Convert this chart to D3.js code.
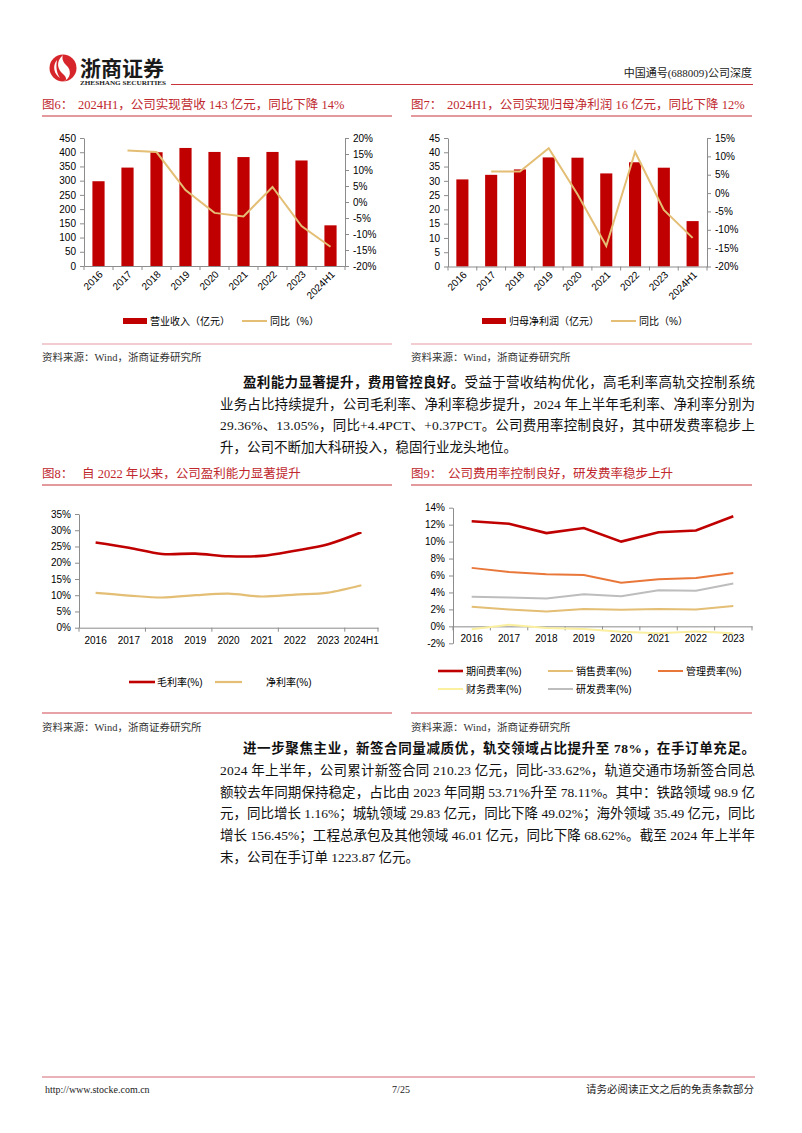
<!DOCTYPE html>
<html><head><meta charset="utf-8">
<script src="https://cdn.jsdelivr.net/npm/d3@7"></script>
<style>body{margin:0;background:#fff}svg{display:block}</style>
</head><body><svg id="page" width="802" height="1133"></svg>
<script>
// ---------- data ----------
const years9 = ["2016","2017","2018","2019","2020","2021","2022","2023","2024H1"];
const years8 = ["2016","2017","2018","2019","2020","2021","2022","2023"];
const revenue = [298, 346, 400, 415, 401, 383, 401, 371, 143];
const revenueYoY = [null, 16.1, 15.6, 3.7, -3.4, -4.5, 4.7, -7.5, -14.0];
const netProfit = [30.5, 32.1, 34.0, 38.2, 38.1, 32.6, 36.5, 34.6, 15.9];
const netProfitYoY = [null, 5.9, 5.9, 12.2, -0.3, -14.4, 11.2, -4.6, -12.2];
const grossMargin = [26.2, 24.6, 22.7, 22.8, 22.0, 22.1, 23.7, 25.7, 29.36];
const netMargin = [10.7, 9.9, 9.3, 10.0, 10.5, 9.6, 10.2, 10.8, 13.05];
const periodExp = [12.4, 12.1, 11.0, 11.6, 10.0, 11.1, 11.3, 13.0];
const salesExp = [2.3, 2.0, 1.75, 2.05, 1.95, 2.05, 2.0, 2.4];
const adminExp = [6.9, 6.4, 6.15, 6.05, 5.15, 5.55, 5.7, 6.3];
const finExp = [-0.35, 0.2, -0.2, -0.3, -0.65, -0.8, -0.6, -0.8];
const rdExp = [3.5, 3.4, 3.3, 3.8, 3.55, 4.25, 4.2, 5.05];
const revTicksL = [0,50,100,150,200,250,300,350,400,450];
const revTicksR = [-20,-15,-10,-5,0,5,10,15,20];
const npTicksL = [0,5,10,15,20,25,30,35,40,45];
const npTicksR = [-20,-15,-10,-5,0,5,10,15];
const marginTicks = [0,5,10,15,20,25,30,35];
const expTicks = [-2,0,2,4,6,8,10,12,14];

// ---------- setup ----------
const svg = d3.select("#page");
svg.append("rect").attr("width",802).attr("height",1133).attr("fill","#fff");
const SERIF = "'Liberation Serif','Noto Sans CJK SC',serif";
const SANS = "'Liberation Sans','Noto Sans CJK SC',sans-serif";
const RED = "#C00000";
const TRED = "#C0282E";
const GOLD = "#E3BE74";
const AX = "#8C8C8C";

// ---------- header ----------
const hd = svg.append("g");
hd.append("circle").attr("cx",63).attr("cy",68).attr("r",13.5).attr("fill","#D7262B");
hd.append("path").attr("d","M63,55 C55,62 58,70 63,74 C68,78 66,82 63,81.5 C71,79 72,70 66,65 C62,61 62,57 63,55Z").attr("fill","#fff");
hd.append("path").attr("d","M57,60 C52,66 54,74 60,78 C56,72 56,66 57,60Z").attr("fill","#fff");
hd.append("text").attr("x",80).attr("y",76).attr("font-family","'Noto Sans CJK SC',sans-serif").attr("font-weight","bold").attr("font-size",21).attr("fill","#1a1a1a").text("浙商证券");
hd.append("text").attr("x",80).attr("y",85).attr("font-family",SERIF).attr("font-weight","bold").attr("font-size",6).attr("fill","#1a1a1a").attr("textLength",86).attr("lengthAdjust","spacingAndGlyphs").text("ZHESHANG SECURITIES");
hd.append("line").attr("x1",171).attr("x2",753).attr("y1",84.5).attr("y2",84.5).attr("stroke","#C8323A").attr("stroke-width",1.2);
hd.append("text").attr("x",752).attr("y",77).attr("text-anchor","end").attr("font-family",SERIF).attr("font-size",11).attr("fill","#222").text("中国通号(688009)公司深度");

// ---------- figure frames ----------
function frame(x0,x1,ty,label,title,tx,uy,sly,sy,slColor){
  const g = svg.append("g");
  g.append("text").attr("x",x0).attr("y",ty).attr("font-family",SERIF).attr("font-size",12.5).attr("fill",TRED).text(label);
  g.append("text").attr("x",tx).attr("y",ty).attr("font-family",SERIF).attr("font-size",12.5).attr("fill",TRED).text(title);
  g.append("line").attr("x1",x0).attr("x2",x1).attr("y1",uy).attr("y2",uy).attr("stroke","#C8323A").attr("stroke-width",1);
  g.append("line").attr("x1",x0).attr("x2",x1).attr("y1",sly).attr("y2",sly).attr("stroke",slColor).attr("stroke-width",1.2);
  g.append("text").attr("x",x0).attr("y",sy).attr("font-family",SERIF).attr("font-size",10.5).attr("fill","#333").text("资料来源：Wind，浙商证券研究所");
}
frame(42,392,109,"图6：","2024H1，公司实现营收 143 亿元，同比下降 14%",78,116,344,361,"#E39AA2");
frame(411,752,109,"图7：","2024H1，公司实现归母净利润 16 亿元，同比下降 12%",447,116,344,361,"#E39AA2");
frame(42,392,478,"图8：","自 2022 年以来，公司盈利能力显著提升",82,485,713,731,"#D04650");
frame(411,752,478,"图9：","公司费用率控制良好，研发费率稳步上升",448,485,713,731,"#D04650");

function styleAxis(sel){
  sel.selectAll(".domain").attr("stroke",AX);
  sel.selectAll(".tick line").attr("stroke",AX);
  sel.selectAll(".tick text").attr("font-family",SANS).attr("font-size",10).attr("fill","#000");
}
const pct = d=>d+"%";

// ---------- combo chart (bars + yoy line) ----------
function combo(o){
  const g = svg.append("g");
  const x = d3.scaleBand().domain(o.cats).range([o.left,o.right]);
  const yL = d3.scaleLinear().domain([0,d3.max(o.lt)]).range([o.bottom,o.top]);
  const yR = d3.scaleLinear().domain(d3.extent(o.rt)).range([o.bottom,o.top]);
  const bw = x.bandwidth()*0.42;
  g.selectAll("rect.bar").data(o.bars).join("rect").attr("class","bar")
    .attr("x",(d,i)=>x(o.cats[i])+(x.bandwidth()-bw)/2).attr("y",d=>yL(d))
    .attr("width",bw).attr("height",d=>yL(0)-yL(d)).attr("fill",RED);
  const aL = g.append("g").attr("transform",`translate(${o.left},0)`)
    .call(d3.axisLeft(yL).tickValues(o.lt).tickSize(4).tickPadding(4).tickSizeOuter(0));
  styleAxis(aL);
  const aR = g.append("g").attr("transform",`translate(${o.right},0)`)
    .call(d3.axisRight(yR).tickValues(o.rt).tickFormat(pct).tickSize(4).tickPadding(4).tickSizeOuter(0));
  styleAxis(aR);
  const aX = g.append("g").attr("transform",`translate(0,${o.bottom})`)
    .call(d3.axisBottom(x).tickSize(0).tickFormat(""));
  styleAxis(aX);
  g.selectAll("line.xt").data(d3.range(o.cats.length+1)).join("line").attr("class","xt")
    .attr("x1",i=>o.left+i*x.step()).attr("x2",i=>o.left+i*x.step())
    .attr("y1",o.bottom).attr("y2",o.bottom+4).attr("stroke",AX);
  g.selectAll("text.xl").data(o.cats).join("text").attr("class","xl")
    .attr("transform",d=>`translate(${x(d)+x.bandwidth()/2+5},${o.bottom+9}) rotate(-45)`)
    .attr("text-anchor","end").attr("font-family",SANS).attr("font-size",10).text(d=>d);
  const ln = d3.line().defined(d=>d!=null).x((d,i)=>x(o.cats[i])+x.bandwidth()/2).y(d=>yR(d));
  g.append("path").attr("d",ln(o.line)).attr("fill","none").attr("stroke",GOLD).attr("stroke-width",2);
  // legend
  const ly = o.legendY;
  g.append("rect").attr("x",o.lg[0]).attr("y",ly-3).attr("width",24).attr("height",6).attr("fill",RED);
  g.append("text").attr("x",o.lg[0]+27).attr("y",ly+3.5).attr("font-family",SANS).attr("font-size",10).text(o.lgText[0]);
  g.append("line").attr("x1",o.lg[1]).attr("x2",o.lg[1]+25).attr("y1",ly).attr("y2",ly).attr("stroke",GOLD).attr("stroke-width",2);
  g.append("text").attr("x",o.lg[1]+28).attr("y",ly+3.5).attr("font-family",SANS).attr("font-size",10).text(o.lgText[1]);
}
combo({cats:years9,left:84,right:345,top:138,bottom:266,lt:revTicksL,rt:revTicksR,bars:revenue,line:revenueYoY,
  legendY:321,lg:[123,242],lgText:["营业收入（亿元）","同比（%）"]});
combo({cats:years9,left:448,right:707,top:138,bottom:266.5,lt:npTicksL,rt:npTicksR,bars:netProfit,line:netProfitYoY,
  legendY:321,lg:[482,611],lgText:["归母净利润（亿元）","同比（%）"]});

// ---------- Fig 8 ----------
(function(){
  const g = svg.append("g");
  const left=79,right=378,top=514,bottom=627.7;
  const x = d3.scaleBand().domain(years9).range([left,right]);
  const y = d3.scaleLinear().domain([0,35]).range([bottom,top]);
  const aL = g.append("g").attr("transform",`translate(${left},0)`)
    .call(d3.axisLeft(y).tickValues(marginTicks).tickFormat(pct).tickSize(4).tickPadding(4).tickSizeOuter(0));
  styleAxis(aL);
  const aX = g.append("g").attr("transform",`translate(0,${bottom})`).call(d3.axisBottom(x).tickSize(0).tickFormat(""));
  styleAxis(aX);
  g.selectAll("line.xt").data([0,2,4,6,8,9]).join("line").attr("class","xt")
    .attr("x1",i=>left+i*x.step()).attr("x2",i=>left+i*x.step()).attr("y1",bottom).attr("y2",bottom+4).attr("stroke",AX);
  g.selectAll("text.xl").data(years9).join("text").attr("class","xl")
    .attr("x",d=>x(d)+x.bandwidth()/2).attr("y",bottom+16.5).attr("text-anchor","middle")
    .attr("font-family",SANS).attr("font-size",10).text(d=>d);
  const ln = d3.line().x((d,i)=>x(years9[i])+x.bandwidth()/2).y(d=>y(d)).curve(d3.curveCatmullRom.alpha(0.5));
  g.append("path").attr("d",ln(netMargin)).attr("fill","none").attr("stroke",GOLD).attr("stroke-width",2.2);
  g.append("path").attr("d",ln(grossMargin)).attr("fill","none").attr("stroke",RED).attr("stroke-width",2.6);
  const ly=682;
  g.append("line").attr("x1",129).attr("x2",155).attr("y1",ly).attr("y2",ly).attr("stroke",RED).attr("stroke-width",2.6);
  g.append("text").attr("x",157).attr("y",ly+3.5).attr("font-family",SANS).attr("font-size",10).text("毛利率(%)");
  g.append("line").attr("x1",215).attr("x2",242).attr("y1",ly).attr("y2",ly).attr("stroke",GOLD).attr("stroke-width",2.2);
  g.append("text").attr("x",266).attr("y",ly+3.5).attr("font-family",SANS).attr("font-size",10).text("净利率(%)");
})();

// ---------- Fig 9 ----------
(function(){
  const g = svg.append("g");
  const left=453,right=752,top=507.7,bottom=643.3;
  const x = d3.scaleBand().domain(years8).range([left,right]);
  const y = d3.scaleLinear().domain([-2,14]).range([bottom,top]);
  const aL = g.append("g").attr("transform",`translate(${left},0)`)
    .call(d3.axisLeft(y).tickValues(expTicks).tickFormat(pct).tickSize(4).tickPadding(4).tickSizeOuter(0));
  styleAxis(aL);
  const y0 = y(0);
  const aX = g.append("g").attr("transform",`translate(0,${y0})`).call(d3.axisBottom(x).tickSize(0).tickFormat(""));
  styleAxis(aX);
  g.selectAll("line.xt").data(d3.range(9)).join("line").attr("class","xt")
    .attr("x1",i=>left+i*x.step()).attr("x2",i=>left+i*x.step()).attr("y1",y0).attr("y2",y0+4).attr("stroke",AX);
  g.selectAll("text.xl").data(years8).join("text").attr("class","xl")
    .attr("x",d=>x(d)+x.bandwidth()/2).attr("y",y0+15.5).attr("text-anchor","middle")
    .attr("font-family",SANS).attr("font-size",10).text(d=>d);
  const ln = d3.line().x((d,i)=>x(years8[i])+x.bandwidth()/2).y(d=>y(d));
  const series = [
    {name:"期间费率(%)",v:periodExp,c:RED,w:2.6},
    {name:"销售费率(%)",v:salesExp,c:GOLD,w:2},
    {name:"管理费率(%)",v:adminExp,c:"#E9773A",w:2},
    {name:"财务费率(%)",v:finExp,c:"#FBEFA0",w:2},
    {name:"研发费率(%)",v:rdExp,c:"#BDBDBD",w:2}
  ];
  series.forEach(s=>g.append("path").attr("d",ln(s.v)).attr("fill","none").attr("stroke",s.c).attr("stroke-width",s.w));
  const pos = [[438,671],[548,671],[658,671],[438,689],[548,689]];
  series.forEach((s,i)=>{
    const [lx,ly]=pos[i];
    g.append("line").attr("x1",lx).attr("x2",lx+25).attr("y1",ly).attr("y2",ly).attr("stroke",s.c).attr("stroke-width",s.w);
    g.append("text").attr("x",lx+28).attr("y",ly+3.5).attr("font-family",SANS).attr("font-size",10).text(s.name);
  });
})();

// ---------- body text ----------
const para1 = [
  {x:243,y:387,j:755,s:[["盈利能力显著提升，费用管控良好。",1],["受益于营收结构优化，高毛利率高轨交控制系统",0]]},
  {x:220,y:409,j:755,s:[["业务占比持续提升，公司毛利率、净利率稳步提升，2024 年上半年毛利率、净利率分别为",0]]},
  {x:220,y:430,j:755,s:[["29.36%、13.05%，同比+4.4PCT、+0.37PCT。公司费用率控制良好，其中研发费率稳步上",0]]},
  {x:220,y:452,j:0,s:[["升，公司不断加大科研投入，稳固行业龙头地位。",0]]}
];
const para2 = [
  {x:243,y:753,j:755,s:[["进一步聚焦主业，新签合同量减质优，轨交领域占比提升至 78%，在手订单充足。",1]]},
  {x:220,y:775,j:755,s:[["2024 年上半年，公司累计新签合同 210.23 亿元，同比-33.62%，轨道交通市场新签合同总",0]]},
  {x:220,y:797,j:755,s:[["额较去年同期保持稳定，占比由 2023 年同期 53.71%升至 78.11%。其中：铁路领域 98.9 亿",0]]},
  {x:220,y:818,j:755,s:[["元，同比增长 1.16%；城轨领域 29.83 亿元，同比下降 49.02%；海外领域 35.49 亿元，同比",0]]},
  {x:220,y:840,j:755,s:[["增长 156.45%；工程总承包及其他领域 46.01 亿元，同比下降 68.62%。截至 2024 年上半年",0]]},
  {x:220,y:862,j:0,s:[["末，公司在手订单 1223.87 亿元。",0]]}
];
[...para1,...para2].forEach(L=>{
  const t = svg.append("text").attr("x",L.x).attr("y",L.y).attr("font-family",SERIF).attr("font-size",13.5).attr("fill","#111");
  if(L.j){t.attr("textLength",L.j-L.x).attr("lengthAdjust","spacing");}
  L.s.forEach(([txt,b])=>t.append("tspan").attr("font-weight",b?"bold":"normal").text(txt));
});

// ---------- footer ----------
svg.append("line").attr("x1",42).attr("x2",755).attr("y1",1077).attr("y2",1077).attr("stroke","#E39AA2").attr("stroke-width",1.5);
svg.append("text").attr("x",45).attr("y",1093).attr("font-family",SERIF).attr("font-size",10).attr("fill","#222").text("http://www.stocke.com.cn");
svg.append("text").attr("x",401).attr("y",1093).attr("text-anchor","middle").attr("font-family",SERIF).attr("font-size",10).attr("fill","#222").text("7/25");
svg.append("text").attr("x",754).attr("y",1093).attr("text-anchor","end").attr("font-family",SERIF).attr("font-size",10.5).attr("fill","#222").text("请务必阅读正文之后的免责条款部分");
</script></body></html>
